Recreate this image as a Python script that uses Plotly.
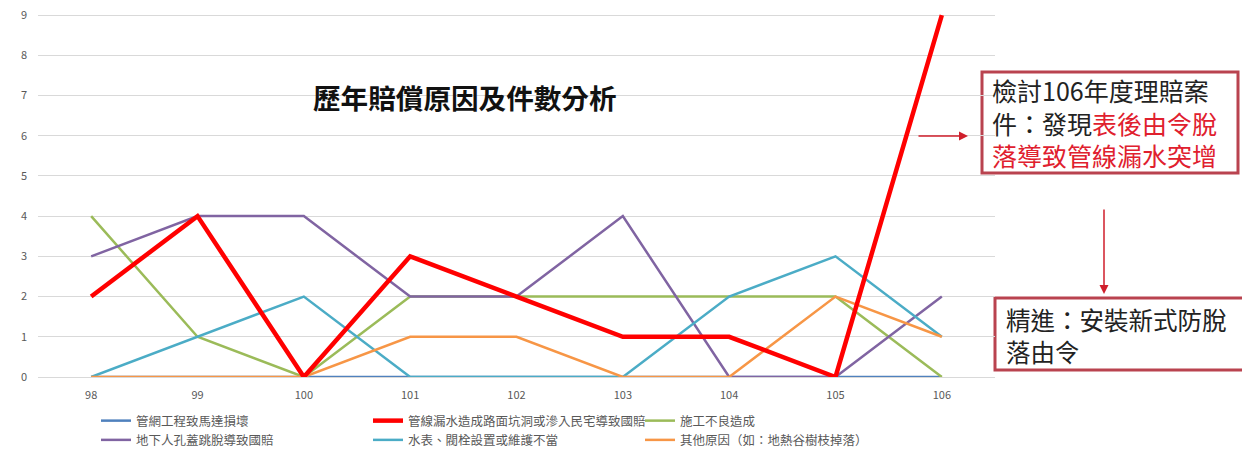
import plotly.graph_objects as go

years = ["98", "99", "100", "101", "102", "103", "104", "105", "106"]
series_names = [
    "管網工程致馬達損壞",
    "管線漏水造成路面坑洞或滲入民宅導致國賠",
    "施工不良造成",
    "地下人孔蓋跳脫導致國賠",
    "水表、閥栓設置或維護不當",
    "其他原因（如：地熱谷樹枝掉落）",
]
motor = [0, 0, 0, 0, 0, 0, 0, 0, 0]
leak = [2, 4, 0, 3, 2, 1, 1, 0, 9]
construction = [4, 1, 0, 2, 2, 2, 2, 2, 0]
manhole = [3, 4, 4, 2, 2, 4, 0, 0, 2]
meter = [0, 1, 2, 0, 0, 0, 2, 3, 1]
other = [0, 0, 0, 1, 1, 0, 0, 2, 1]
y_ticks = [0, 1, 2, 3, 4, 5, 6, 7, 8, 9]

values = [motor, leak, construction, manhole, meter, other]
colors = ["#4f81bd", "#ff0000", "#9bbb59", "#8064a2", "#4bacc6", "#f79646"]
widths = [2.5, 4.5, 2.5, 2.5, 2.5, 2.5]

# draw red last (on top) but keep legend order
draw_order = [0, 2, 3, 4, 5, 1]

# page body has an 8px offset; size the figure to fit the window
OFF = 8
W, H = 1250 - OFF, 452 - OFF
YMAX = 9.1
PIX_PER_UNIT = (377 - 15) / 9.0
L, R, B = 38 - OFF, 255, 75
T = int(round(15 - OFF - (YMAX - 9) * PIX_PER_UNIT))
PW = W - L - R
PH = H - T - B


def px(x):
    return (x - OFF - L) / PW


def py(y):
    return (H - B - (y - OFF)) / PH


fig = go.Figure()
for i in draw_order:
    fig.add_trace(go.Scatter(
        x=years, y=values[i], name=series_names[i], mode="lines",
        line=dict(color=colors[i], width=widths[i]),
        legendrank=i + 1, cliponaxis=False,
    ))

font_family = "Noto Sans CJK TC, Noto Sans, sans-serif"

annotations = [
    dict(text="<b>歷年賠償原因及件數分析</b>", x=px(465), y=py(97), xref="paper", yref="paper",
         showarrow=False, font=dict(size=27.6, color="#111111", family=font_family),
         xanchor="center", yanchor="middle"),
    dict(text="檢討106年度理賠案<br>件：發現<span style='color:#e0202e'>表後由令脫</span><br>"
              "<span style='color:#e0202e'>落導致管線漏水突增</span>",
         x=px(990), y=py(122.5), xref="paper", yref="paper", showarrow=False,
         align="left", xanchor="left", yanchor="middle",
         font=dict(size=25, color="#222222", family=font_family)),
    dict(text="精進：安裝新式防脫<br>落由令",
         x=px(1004), y=py(335), xref="paper", yref="paper", showarrow=False,
         align="left", xanchor="left", yanchor="middle",
         font=dict(size=24.5, color="#222222", family=font_family)),
    dict(text="", x=px(968), y=py(136), xref="paper", yref="paper", showarrow=True,
         ax=-51, ay=0, arrowhead=2, arrowsize=1.2, arrowwidth=1.5, arrowcolor="#d01f2c"),
    dict(text="", x=px(1104), y=py(294), xref="paper", yref="paper", showarrow=True,
         ax=0, ay=-86, arrowhead=2, arrowsize=1.2, arrowwidth=1.5, arrowcolor="#d01f2c"),
]

shapes = [
    dict(type="rect", xref="paper", yref="paper", x0=px(982), x1=px(1238), y0=py(173), y1=py(72),
         line=dict(color="#b9434f", width=3), fillcolor="white", layer="below"),
    dict(type="rect", xref="paper", yref="paper", x0=px(995), x1=px(1247), y0=py(370), y1=py(298),
         line=dict(color="#b9434f", width=3), fillcolor="white", layer="below"),
]

fig.update_layout(
    width=W, height=H,
    margin=dict(l=L, r=R, t=T, b=B, autoexpand=False),
    paper_bgcolor="white", plot_bgcolor="white",
    font=dict(family=font_family, color="#595959"),
    showlegend=True,
    legend=dict(orientation="h", x=px(96), y=py(406), xanchor="left", yanchor="top",
                font=dict(size=12.5, color="#595959", family=font_family),
                entrywidth=227, entrywidthmode="pixels", traceorder="normal",
                bgcolor="rgba(0,0,0,0)", itemwidth=30, tracegroupgap=0),
    xaxis=dict(type="category", range=[-0.5, 8.5], showgrid=False, showline=True,
               linecolor="#d9d9d9", linewidth=1, ticks="", tickfont=dict(size=11, color="#595959"),
               ticklabelstandoff=8, fixedrange=True),
    yaxis=dict(range=[0, YMAX], tickvals=y_ticks, showgrid=True, gridcolor="#d9d9d9", gridwidth=1,
               zeroline=False, showline=False, ticks="", tickfont=dict(size=11, color="#595959"),
               ticklabelstandoff=10, ticklabeloverflow="allow", fixedrange=True),
    annotations=annotations,
    shapes=shapes,
)

fig.write_html("out.html")
